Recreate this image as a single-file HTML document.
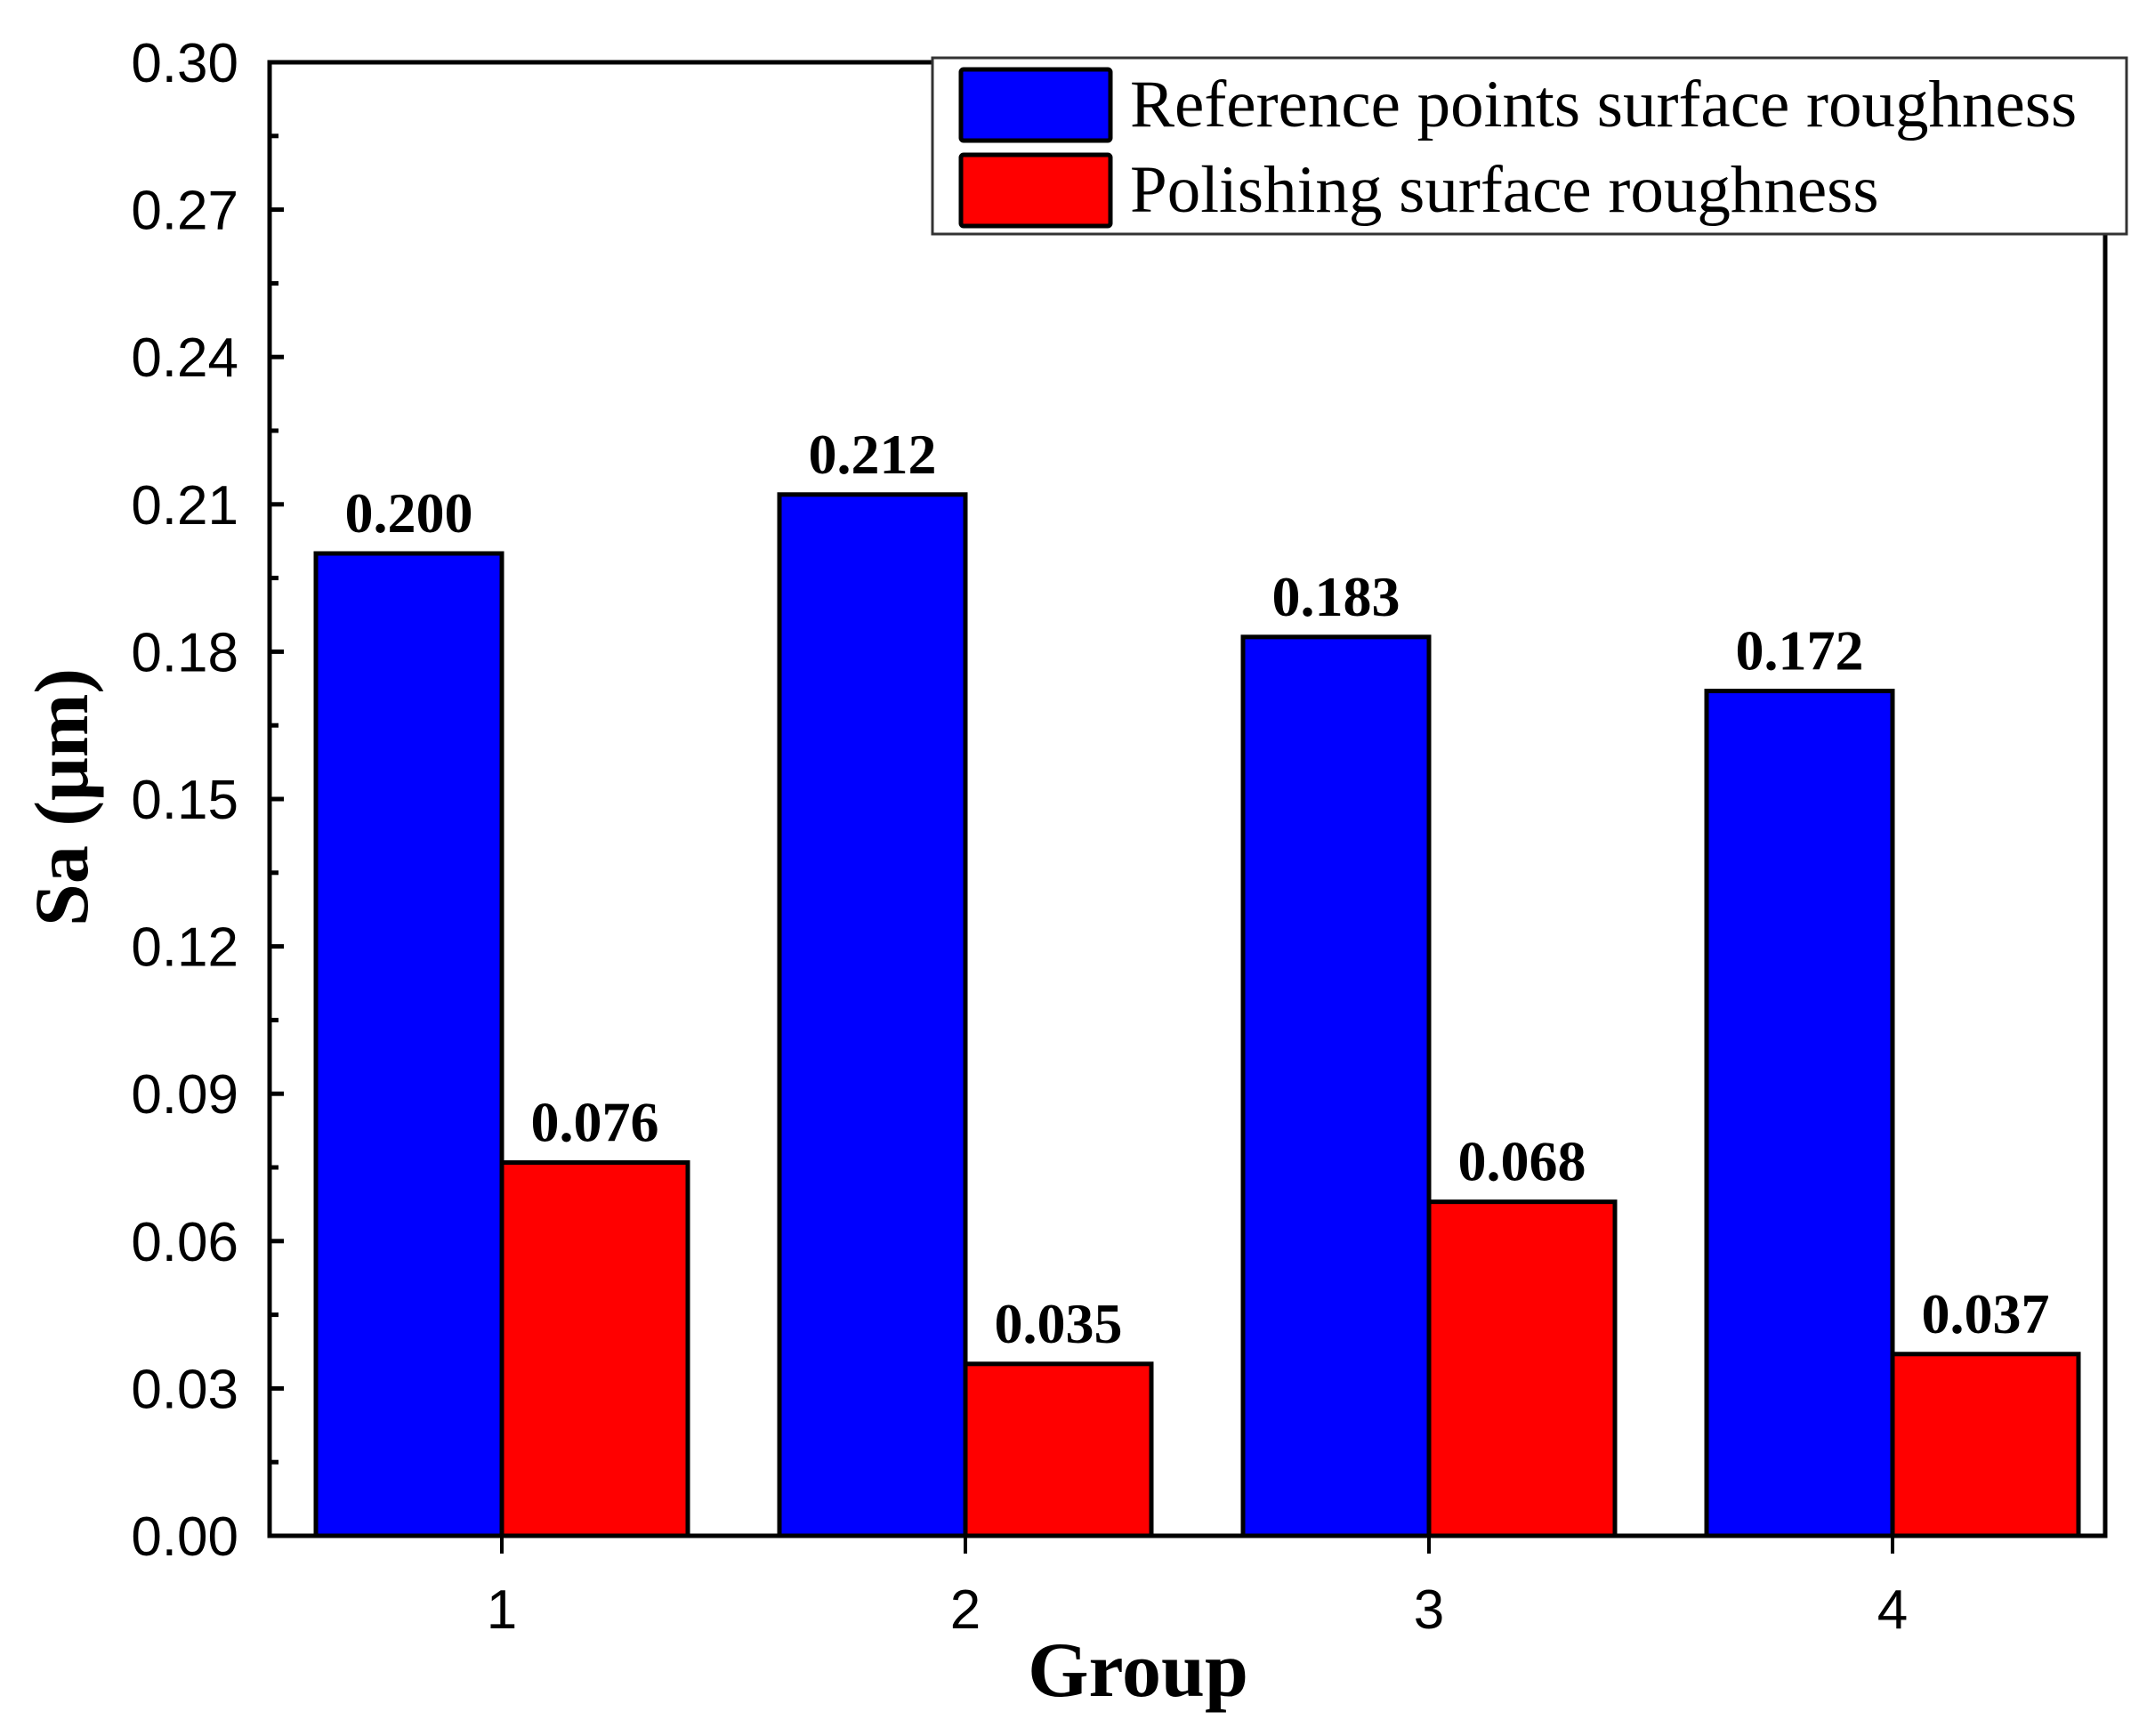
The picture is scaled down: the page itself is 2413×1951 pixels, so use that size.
<!DOCTYPE html>
<html><head><meta charset="utf-8"><style>
html,body{margin:0;padding:0;background:#fff;}
svg{display:block;}
</style></head><body>
<svg id="chart" width="2413" height="1951" viewBox="0 0 2413 1951" xmlns="http://www.w3.org/2000/svg">
<g id="plot"></g>
</svg>
<script>
const categories = ["1","2","3","4"];
const referenceValues = [0.200, 0.212, 0.183, 0.172];
const polishingValues = [0.076, 0.035, 0.068, 0.037];
const yTicks = [0.00,0.03,0.06,0.09,0.12,0.15,0.18,0.21,0.24,0.27,0.30];
const yTickLabels = ["0.00","0.03","0.06","0.09","0.12","0.15","0.18","0.21","0.24","0.27","0.30"];

const NS = "http://www.w3.org/2000/svg";
const L = 303, R = 2366, T = 70, B = 1726;
const yMax = 0.30;
function y(v){ return B - (v / yMax) * (B - T); }
function x(i){ return 564 + i * 521; }
const barW = 209;
const g = document.getElementById('plot');
function el(tag, attrs, text){
  const e = document.createElementNS(NS, tag);
  for (const k in attrs) e.setAttribute(k, attrs[k]);
  if (text !== undefined) e.textContent = text;
  g.appendChild(e);
  return e;
}

categories.forEach((c, i) => {
  const b1 = el('rect', {x: x(i) - barW, y: y(referenceValues[i]), width: barW, height: B - y(referenceValues[i]), fill: '#0000ff', stroke: '#000', 'stroke-width': 5});
  
  
  const b2 = el('rect', {x: x(i), y: y(polishingValues[i]), width: barW, height: B - y(polishingValues[i]), fill: '#ff0000', stroke: '#000', 'stroke-width': 5});
  
  
  const t1 = el('text', {x: x(i) - barW / 2, y: y(referenceValues[i]) - 24, 'text-anchor': 'middle', 'font-family': 'Liberation Serif, serif', 'font-weight': 'bold', 'font-size': 64}, referenceValues[i].toFixed(3));
  
  
  const t2 = el('text', {x: x(i) + barW / 2, y: y(polishingValues[i]) - 24, 'text-anchor': 'middle', 'font-family': 'Liberation Serif, serif', 'font-weight': 'bold', 'font-size': 64}, polishingValues[i].toFixed(3));
  
  
});

const frame = el('rect', {x: L, y: T, width: R - L, height: B - T, fill: 'none', stroke: '#000', 'stroke-width': 5});



yTicks.forEach((v, i) => {
  const tk = el('line', {x1: L, x2: L + 16, y1: y(v), y2: y(v), stroke: '#000', 'stroke-width': 5});
  
  
  const lb = el('text', {x: 268, y: y(v) + 22, 'text-anchor': 'end', 'font-family': 'Liberation Sans, sans-serif', 'font-size': 62}, yTickLabels[i]);
  
  
  if (i < yTicks.length - 1) {
    const mn = el('line', {x1: L, x2: L + 10, y1: y(v + 0.015), y2: y(v + 0.015), stroke: '#000', 'stroke-width': 5});
    
    
  }
});

categories.forEach((c, i) => {
  const tk = el('line', {x1: x(i), x2: x(i), y1: B, y2: B + 20, stroke: '#000', 'stroke-width': 4});
  
  
  const lb = el('text', {x: x(i), y: 1830, 'text-anchor': 'middle', 'font-family': 'Liberation Sans, sans-serif', 'font-size': 62}, c);
  
  
});

const xt = el('text', {x: 1279, y: 1906, 'text-anchor': 'middle', 'font-family': 'Liberation Serif, serif', 'font-weight': 'bold', 'font-size': 88}, 'Group');


const yt = el('text', {x: 0, y: 0, 'text-anchor': 'middle', transform: 'translate(98,896) rotate(-90)', 'font-family': 'Liberation Serif, serif', 'font-weight': 'bold', 'font-size': 86}, 'Sa (μm)');



const lg = el('rect', {x: 1048, y: 65, width: 1342, height: 198, fill: '#fff', stroke: '#333', 'stroke-width': 3});


const s1 = el('rect', {x: 1080, y: 78, width: 168, height: 80, fill: '#0000ff', stroke: '#000', 'stroke-width': 5, rx: 3});


const s2 = el('rect', {x: 1080, y: 174, width: 168, height: 80, fill: '#ff0000', stroke: '#000', 'stroke-width': 5, rx: 3});


const l1 = el('text', {x: 1270, y: 142, 'font-family': 'Liberation Serif, serif', 'font-size': 75}, 'Reference points surface roughness');


const l2 = el('text', {x: 1270, y: 238, 'font-family': 'Liberation Serif, serif', 'font-size': 75}, 'Polishing surface roughness');


</script>
</body></html>
